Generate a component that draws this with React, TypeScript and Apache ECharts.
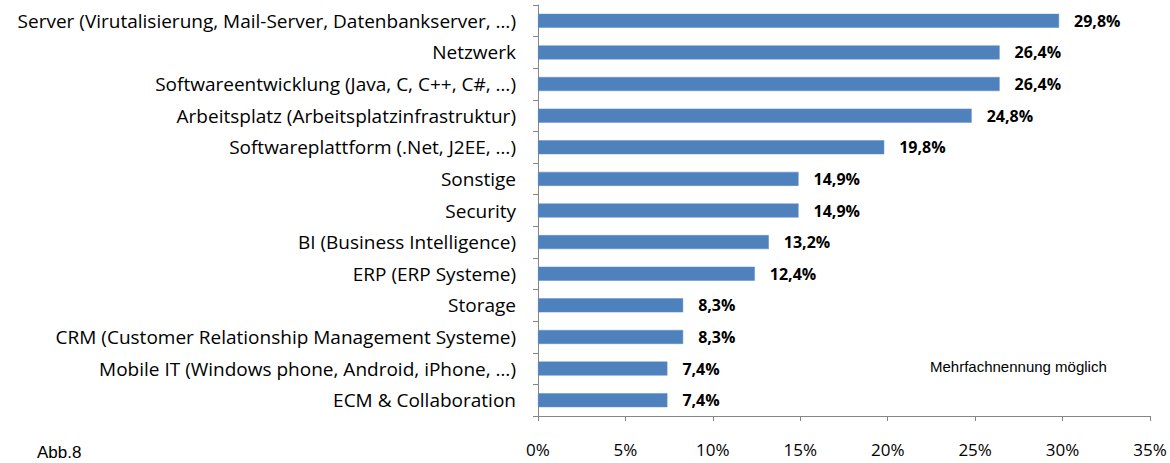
import React, { useEffect, useRef } from "react";
import * as echarts from "echarts";

const categories = [
  "Server (Virutalisierung, Mail-Server, Datenbankserver, …)",
  "Netzwerk",
  "Softwareentwicklung (Java, C, C++, C#, …)",
  "Arbeitsplatz (Arbeitsplatzinfrastruktur)",
  "Softwareplattform (.Net, J2EE, …)",
  "Sonstige",
  "Security",
  "BI (Business Intelligence)",
  "ERP (ERP Systeme)",
  "Storage",
  "CRM (Customer Relationship Management Systeme)",
  "Mobile IT (Windows phone, Android, iPhone, …)",
  "ECM & Collaboration",
];
const values = [29.8, 26.4, 26.4, 24.8, 19.8, 14.9, 14.9, 13.2, 12.4, 8.3, 8.3, 7.4, 7.4];
const xTicks = [0, 5, 10, 15, 20, 25, 30, 35];
const note = "Mehrfachnennung möglich";
const figLabel = "Abb.8";

export default function App() {
  const ref = useRef<HTMLDivElement>(null);
  useEffect(() => {
    if (!ref.current) return;
    const chart = echarts.init(ref.current, null, { renderer: "svg" });
    chart.setOption({
      animation: false,
      backgroundColor: "#ffffff",
      grid: { left: 538, right: 20, top: 5, bottom: 47, containLabel: false },
      xAxis: {
        type: "value",
        min: xTicks[0],
        max: xTicks[xTicks.length - 1],
        interval: 5,
        axisLine: { show: true, lineStyle: { color: "#868686", width: 1 } },
        axisTick: { show: true, length: 5, lineStyle: { color: "#868686" } },
        splitLine: { show: false },
        axisLabel: {
          margin: 25,
          color: "#000",
          fontFamily: "Open Sans",
          fontSize: 17,
          formatter: (v: number) => `${v}%`,
        },
      },
      yAxis: {
        type: "category",
        data: categories,
        inverse: true,
        axisLine: { show: true, lineStyle: { color: "#868686", width: 1 } },
        axisTick: { show: true, length: 5, lineStyle: { color: "#868686" } },
        axisLabel: {
          margin: 22,
          color: "#000",
          fontFamily: "Open Sans",
          fontSize: 19,
        },
      },
      series: [
        {
          type: "bar",
          data: values,
          barWidth: 14,
          itemStyle: { color: "#4F81BD", borderColor: "#5B8FCB", borderWidth: 0.5 },
          label: {
            show: true,
            position: "right",
            distance: 15,
            color: "#000",
            fontFamily: "Open Sans",
            fontWeight: "bold",
            fontSize: 16,
            formatter: (p: any) => `${p.value.toFixed(1).replace(".", ",")}%`,
          },
        },
      ],
      graphic: [
        {
          type: "text",
          left: 930,
          top: 359,
          style: { text: note, fontFamily: "Liberation Sans", fontSize: 15, fill: "#000" },
        },
        {
          type: "text",
          left: 37,
          top: 444,
          style: { text: figLabel, fontFamily: "Liberation Sans", fontSize: 17, fill: "#000" },
        },
      ],
    });
    return () => chart.dispose();
  }, []);
  return (
    <div
      ref={ref}
      style={{ position: "absolute", left: 0, top: 0, width: 1170, height: 463 }}
    />
  );
}
